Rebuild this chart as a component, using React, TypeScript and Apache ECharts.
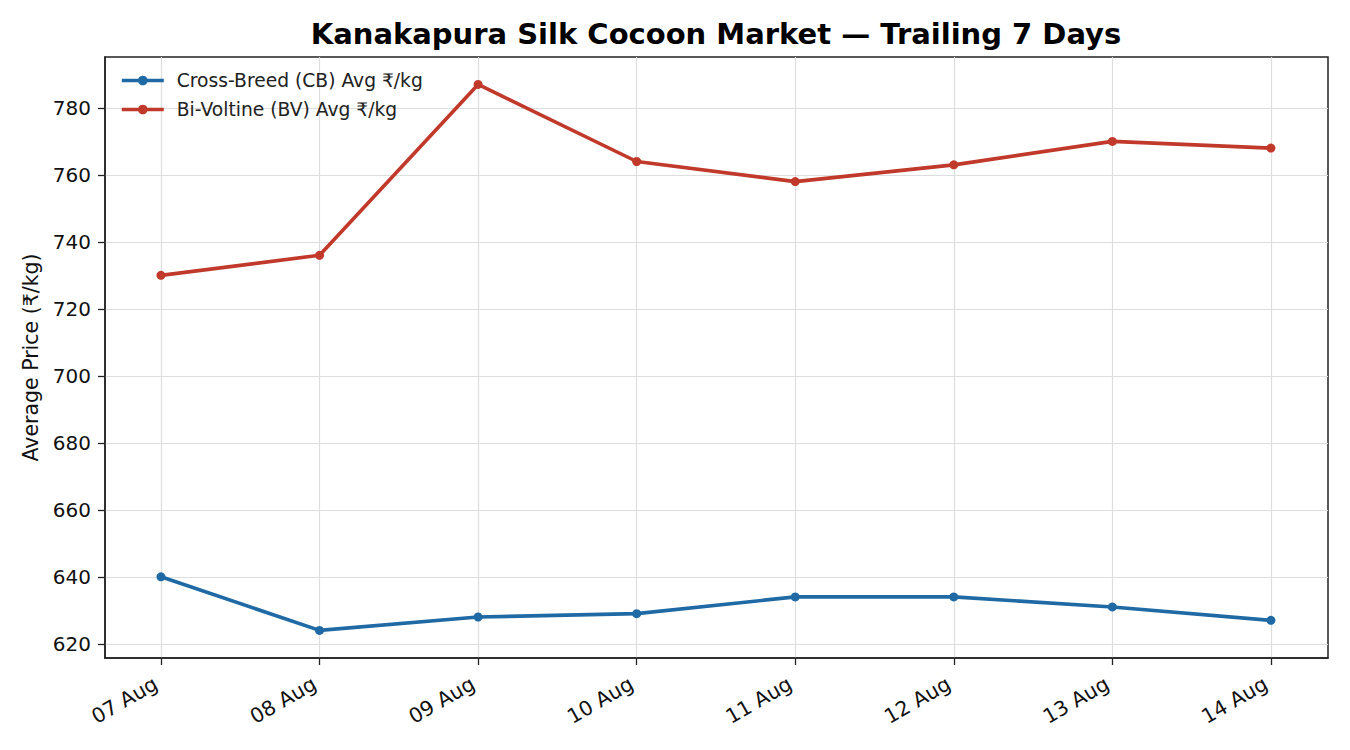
import React, { useEffect, useRef } from "react";
import * as echarts from "echarts";

const dates = ["07 Aug", "08 Aug", "09 Aug", "10 Aug", "11 Aug", "12 Aug", "13 Aug", "14 Aug"];
const cbValues = [640, 624, 628, 629, 634, 634, 631, 627];
const bvValues = [730, 736, 787, 764, 758, 763, 770, 768];
const yTicks = [620, 640, 660, 680, 700, 720, 740, 760, 780];
const seriesNames = ["Cross-Breed (CB) Avg ₹/kg", "Bi-Voltine (BV) Avg ₹/kg"];

const FONT = "DejaVu Sans";

export default function App() {
  const ref = useRef<HTMLDivElement>(null);
  useEffect(() => {
    if (!ref.current) return;
    const chart = echarts.init(ref.current, undefined, { renderer: "svg" });
    const xIdx = dates.map((_, i) => i);
    chart.setOption({
      animation: false,
      backgroundColor: "#ffffff",
      title: {
        text: "Kanakapura Silk Cocoon Market — Trailing 7 Days",
        left: 716,
        textAlign: "center",
        top: 19,
        padding: 0,
        textStyle: { fontFamily: FONT, fontSize: 29, fontWeight: "bold", color: "#000" },
      },
      legend: {
        left: 120,
        top: 70,
        padding: 0,
        orient: "vertical",
        itemGap: 8,
        itemWidth: 42,
        itemHeight: 12,
        lineStyle: { width: 3.6 },
        textStyle: { fontFamily: FONT, fontSize: 18.7, color: "#222", lineHeight: 21, padding: [0, 0, 0, 8] },
        data: seriesNames,
      },
      grid: {
        left: 105,
        right: 22,
        top: 57,
        bottom: 92,
        show: true,
        borderColor: "#222",
        borderWidth: 1.5,
        backgroundColor: "transparent",
      },
      xAxis: {
        type: "value",
        min: -0.353,
        max: 7.36,
        axisLine: { show: true, onZero: false, lineStyle: { color: "#222", width: 1.5 } },
        axisTick: { show: true, customValues: xIdx, length: 7, lineStyle: { color: "#222", width: 1.3 } },
        axisLabel: {
          customValues: xIdx,
          rotate: 30,
          fontFamily: FONT,
          fontSize: 20.4,
          color: "#111",
          margin: 21,
          padding: [0, 6, 0, 0],
          formatter: (v: number) => dates[Math.round(v)] ?? "",
        },
        splitLine: { show: true, lineStyle: { color: "#dedede", width: 1.2 } },
      },
      yAxis: {
        type: "value",
        min: 615.76,
        max: 795.2,
        name: "Average Price (₹/kg)",
        nameLocation: "middle",
        nameGap: 61,
        nameTextStyle: { fontFamily: FONT, fontSize: 20.5, color: "#111" },
        axisLine: { show: true, onZero: false, lineStyle: { color: "#222", width: 1.5 } },
        axisTick: { show: true, customValues: yTicks, length: 7, lineStyle: { color: "#222", width: 1.3 } },
        axisLabel: {
          customValues: yTicks,
          fontFamily: FONT,
          fontSize: 20,
          color: "#111",
          margin: 14,
        },
        splitLine: { show: true, lineStyle: { color: "#dedede", width: 1.2 } },
      },
      series: [
        {
          name: seriesNames[0],
          type: "line",
          data: cbValues.map((v, i) => [i, v]),
          symbol: "circle",
          symbolSize: 9,
          color: "#1f6aa5",
          lineStyle: { width: 3.6, color: "#1f6aa5" },
          itemStyle: { color: "#1f6aa5" },
        },
        {
          name: seriesNames[1],
          type: "line",
          data: bvValues.map((v, i) => [i, v]),
          symbol: "circle",
          symbolSize: 9,
          color: "#c0392b",
          lineStyle: { width: 3.6, color: "#c0392b" },
          itemStyle: { color: "#c0392b" },
        },
      ],
    });
    return () => chart.dispose();
  }, []);
  return <div ref={ref} style={{ width: 1350, height: 750, margin: -8 }} />;
}
